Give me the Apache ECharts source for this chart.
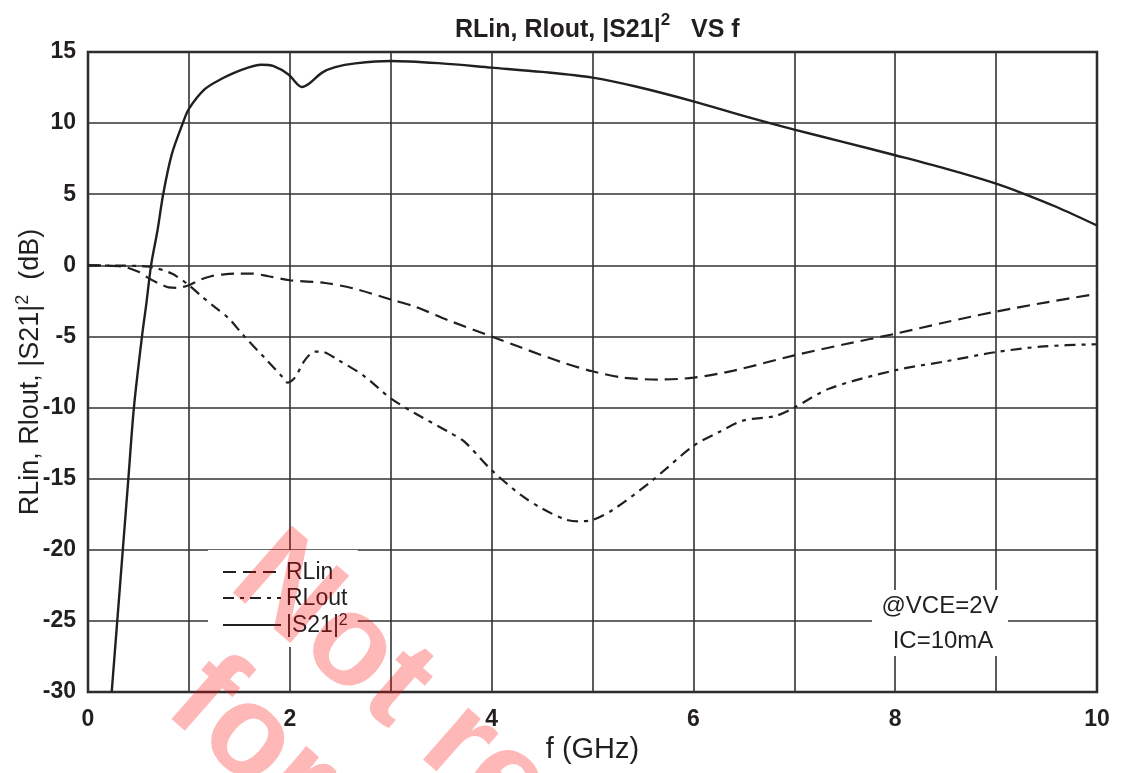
<!DOCTYPE html>
<html>
<head>
<meta charset="utf-8">
<script src="https://cdn.jsdelivr.net/npm/echarts@6/dist/echarts.min.js"></script>
<style>
  html, body { margin: 0; padding: 0; background: #fff; }
  #chart { width: 1123px; height: 773px; }
</style>
</head>
<body>
<div id="chart"></div>
<script>
// frequency (GHz) / level (dB)
var s21X  = [0.235, 0.29, 0.345, 0.40, 0.455, 0.535, 0.58, 0.625, 0.69, 0.745, 0.83, 0.94, 1.0, 1.16, 1.32, 1.49, 1.72, 1.84, 1.99, 2.07, 2.12, 2.19, 2.32, 2.45, 2.65, 3.0, 3.5, 4.0, 4.5, 5.0, 5.45, 6.0, 6.55, 7.0, 7.5, 8.0, 8.5, 9.0, 9.27, 9.6, 10.0];
var s21Y  = [-30, -25, -20, -15, -10, -5, -2.6, 0, 2.5, 5, 7.8, 10, 11, 12.4, 13.1, 13.66, 14.1, 14.0, 13.4, 12.77, 12.54, 12.77, 13.55, 13.94, 14.2, 14.37, 14.2, 13.9, 13.6, 13.2, 12.54, 11.53, 10.4, 9.54, 8.65, 7.74, 6.8, 5.75, 5.05, 4.1, 2.8];

var rlinX = [0, 0.33, 0.5, 0.6, 0.71, 0.8, 0.88, 1.0, 1.1, 1.22, 1.35, 1.49, 1.62, 1.79, 2.0, 2.35, 2.64, 3.0, 3.24, 3.57, 4.0, 4.3, 4.69, 5.0, 5.31, 5.65, 6.0, 6.4, 7.0, 7.5, 8.0, 8.5, 9.0, 9.5, 10.0];
var rlinY = [0, -0.07, -0.45, -0.9, -1.3, -1.55, -1.58, -1.4, -1.05, -0.77, -0.63, -0.58, -0.58, -0.77, -1.05, -1.24, -1.64, -2.4, -2.9, -3.86, -5.0, -5.8, -6.8, -7.45, -7.9, -8.03, -7.9, -7.4, -6.33, -5.55, -4.81, -4.0, -3.25, -2.6, -2.0];

var rloutX = [0, 0.3, 0.5, 0.63, 0.83, 1.0, 1.13, 1.26, 1.39, 1.55, 1.75, 1.92, 1.98, 2.05, 2.15, 2.25, 2.31, 2.48, 2.74, 3.0, 3.24, 3.57, 3.73, 4.0, 4.3, 4.5, 4.73, 4.86, 5.0, 5.2, 5.58, 6.0, 6.26, 6.5, 6.81, 7.0, 7.35, 8.0, 8.5, 9.0, 9.47, 10.0];
var rloutY = [0, -0.02, -0.05, -0.12, -0.58, -1.4, -2.2, -2.95, -3.7, -5.0, -6.5, -7.8, -8.25, -7.9, -6.66, -6.07, -6.07, -6.66, -7.8, -9.35, -10.4, -11.7, -12.4, -14.4, -16.2, -17.1, -17.87, -18.0, -17.9, -17.2, -15.2, -12.7, -11.7, -10.9, -10.6, -10.0, -8.66, -7.38, -6.75, -6.1, -5.7, -5.55];

function pairs(xs, ys) {
    return xs.map(function (x, i) { return [x, ys[i]]; });
}

var ink = '#231f20';
var font = 'Liberation Sans, Arial, sans-serif';
var hidden = 'rgba(0,0,0,0)';

var chart = echarts.init(document.getElementById('chart'), null, { renderer: 'canvas' });

var option = {
    backgroundColor: '#fff',
    animation: false,
    title: {
        text: '{a|RLin, Rlout, |S21|}{s|2}{a|   VS f}',
        left: 450,
        top: 7,
        textStyle: {
            rich: {
                a: { fontFamily: font, fontSize: 25, color: ink, lineHeight: 31, verticalAlign: 'bottom' },
                s: { fontFamily: font, fontSize: 17, color: ink, lineHeight: 31, verticalAlign: 'top' }
            }
        }
    },
    grid: {
        left: 88, right: 26, top: 52, bottom: 81,
        outerBoundsMode: 'none',
        containLabel: false,
        show: true,
        borderColor: ink,
        borderWidth: 2.5,
        backgroundColor: 'transparent'
    },
    legend: {
        orient: 'vertical',
        left: 208,
        top: 550,
        backgroundColor: '#fff',
        padding: [11, 10, 10, 14],
        itemWidth: 58,
        itemHeight: 14,
        itemGap: 3,
        data: ['RLin', 'RLout', 'S21'],
        itemStyle: { color: hidden, borderColor: hidden, borderWidth: 0 },
        formatter: function (name) {
            return name === 'S21' ? '{t||S21|}{s|2}' : '{t|' + name + '}';
        },
        textStyle: {
            rich: {
                t: { fontFamily: font, fontSize: 23, color: ink, lineHeight: 24, verticalAlign: 'bottom' },
                s: { fontFamily: font, fontSize: 16, color: ink, lineHeight: 24, verticalAlign: 'top' }
            }
        }
    },
    xAxis: {
        type: 'value',
        min: 0,
        max: 10,
        interval: 1,
        name: 'f (GHz)',
        nameLocation: 'middle',
        nameGap: 43,
        nameMoveOverlap: false,
        nameTextStyle: { fontFamily: font, fontSize: 29, color: ink },
        axisLine: { show: false },
        axisTick: { show: false },
        axisLabel: {
            margin: 16,
            fontFamily: font,
            fontSize: 23,
            fontWeight: 'bold',
            color: ink,
            formatter: function (v) { return v % 2 === 0 ? String(v) : ''; }
        },
        splitLine: { show: true, lineStyle: { color: '#333', width: 1.6 } }
    },
    yAxis: {
        type: 'value',
        min: -30,
        max: 15,
        interval: 5,
        name: '{a|RLin, Rlout, |S21|}{s|2}{a|  (dB)}',
        nameLocation: 'middle',
        nameGap: 44,
        nameMoveOverlap: false,
        nameRotate: 90,
        nameTextStyle: {
            rich: {
                a: { fontFamily: font, fontSize: 27, color: ink, lineHeight: 30, verticalAlign: 'bottom' },
                s: { fontFamily: font, fontSize: 18, color: ink, lineHeight: 30, verticalAlign: 'top' }
            }
        },
        axisLine: { show: false },
        axisTick: { show: false },
        axisLabel: {
            margin: 12,
            fontFamily: font,
            fontSize: 23,
            fontWeight: 'bold',
            color: ink
        },
        splitLine: { show: true, lineStyle: { color: '#333', width: 1.6 } }
    },
    series: [
        {
            name: 'RLin',
            type: 'line',
            data: pairs(rlinX, rlinY),
            smooth: 0.3,
            symbol: 'none',
            lineStyle: { color: ink, width: 2.2, type: [13, 7] },
            itemStyle: { color: ink }
        },
        {
            name: 'RLout',
            type: 'line',
            data: pairs(rloutX, rloutY),
            smooth: 0.3,
            symbol: 'none',
            lineStyle: { color: ink, width: 2.2, type: [11, 6, 4, 6] },
            itemStyle: { color: ink }
        },
        {
            name: 'S21',
            type: 'line',
            data: pairs(s21X, s21Y),
            smooth: 0.3,
            symbol: 'none',
            lineStyle: { color: ink, width: 2.4 },
            itemStyle: { color: ink }
        }
    ],
    graphic: [
        {
            type: 'rect',
            shape: { x: 872, y: 590, width: 136, height: 66 },
            style: { fill: '#fff' },
            z: 50
        },
        {
            type: 'text',
            x: 940, y: 606,
            style: { text: '@VCE=2V', font: '24px Liberation Sans, Arial, sans-serif', fill: ink, align: 'center', verticalAlign: 'middle' },
            z: 51
        },
        {
            type: 'text',
            x: 943, y: 641,
            style: { text: 'IC=10mA', font: '24px Liberation Sans, Arial, sans-serif', fill: ink, align: 'center', verticalAlign: 'middle' },
            z: 51
        },
        // red "not recommended" stamp across the lower left
        {
            type: 'text',
            x: 250, y: 560,
            rotation: -0.72,
            style: { text: 'Not recommended', font: 'bold 130px Liberation Sans, Arial, sans-serif', fill: 'rgba(255,0,0,0.28)', align: 'left', verticalAlign: 'middle' },
            z: 200
        },
        {
            type: 'text',
            x: 186, y: 684,
            rotation: -0.72,
            style: { text: 'for new design', font: 'bold 130px Liberation Sans, Arial, sans-serif', fill: 'rgba(255,0,0,0.28)', align: 'left', verticalAlign: 'middle' },
            z: 200
        }
    ]
};

chart.setOption(option);
</script>
</body>
</html>
